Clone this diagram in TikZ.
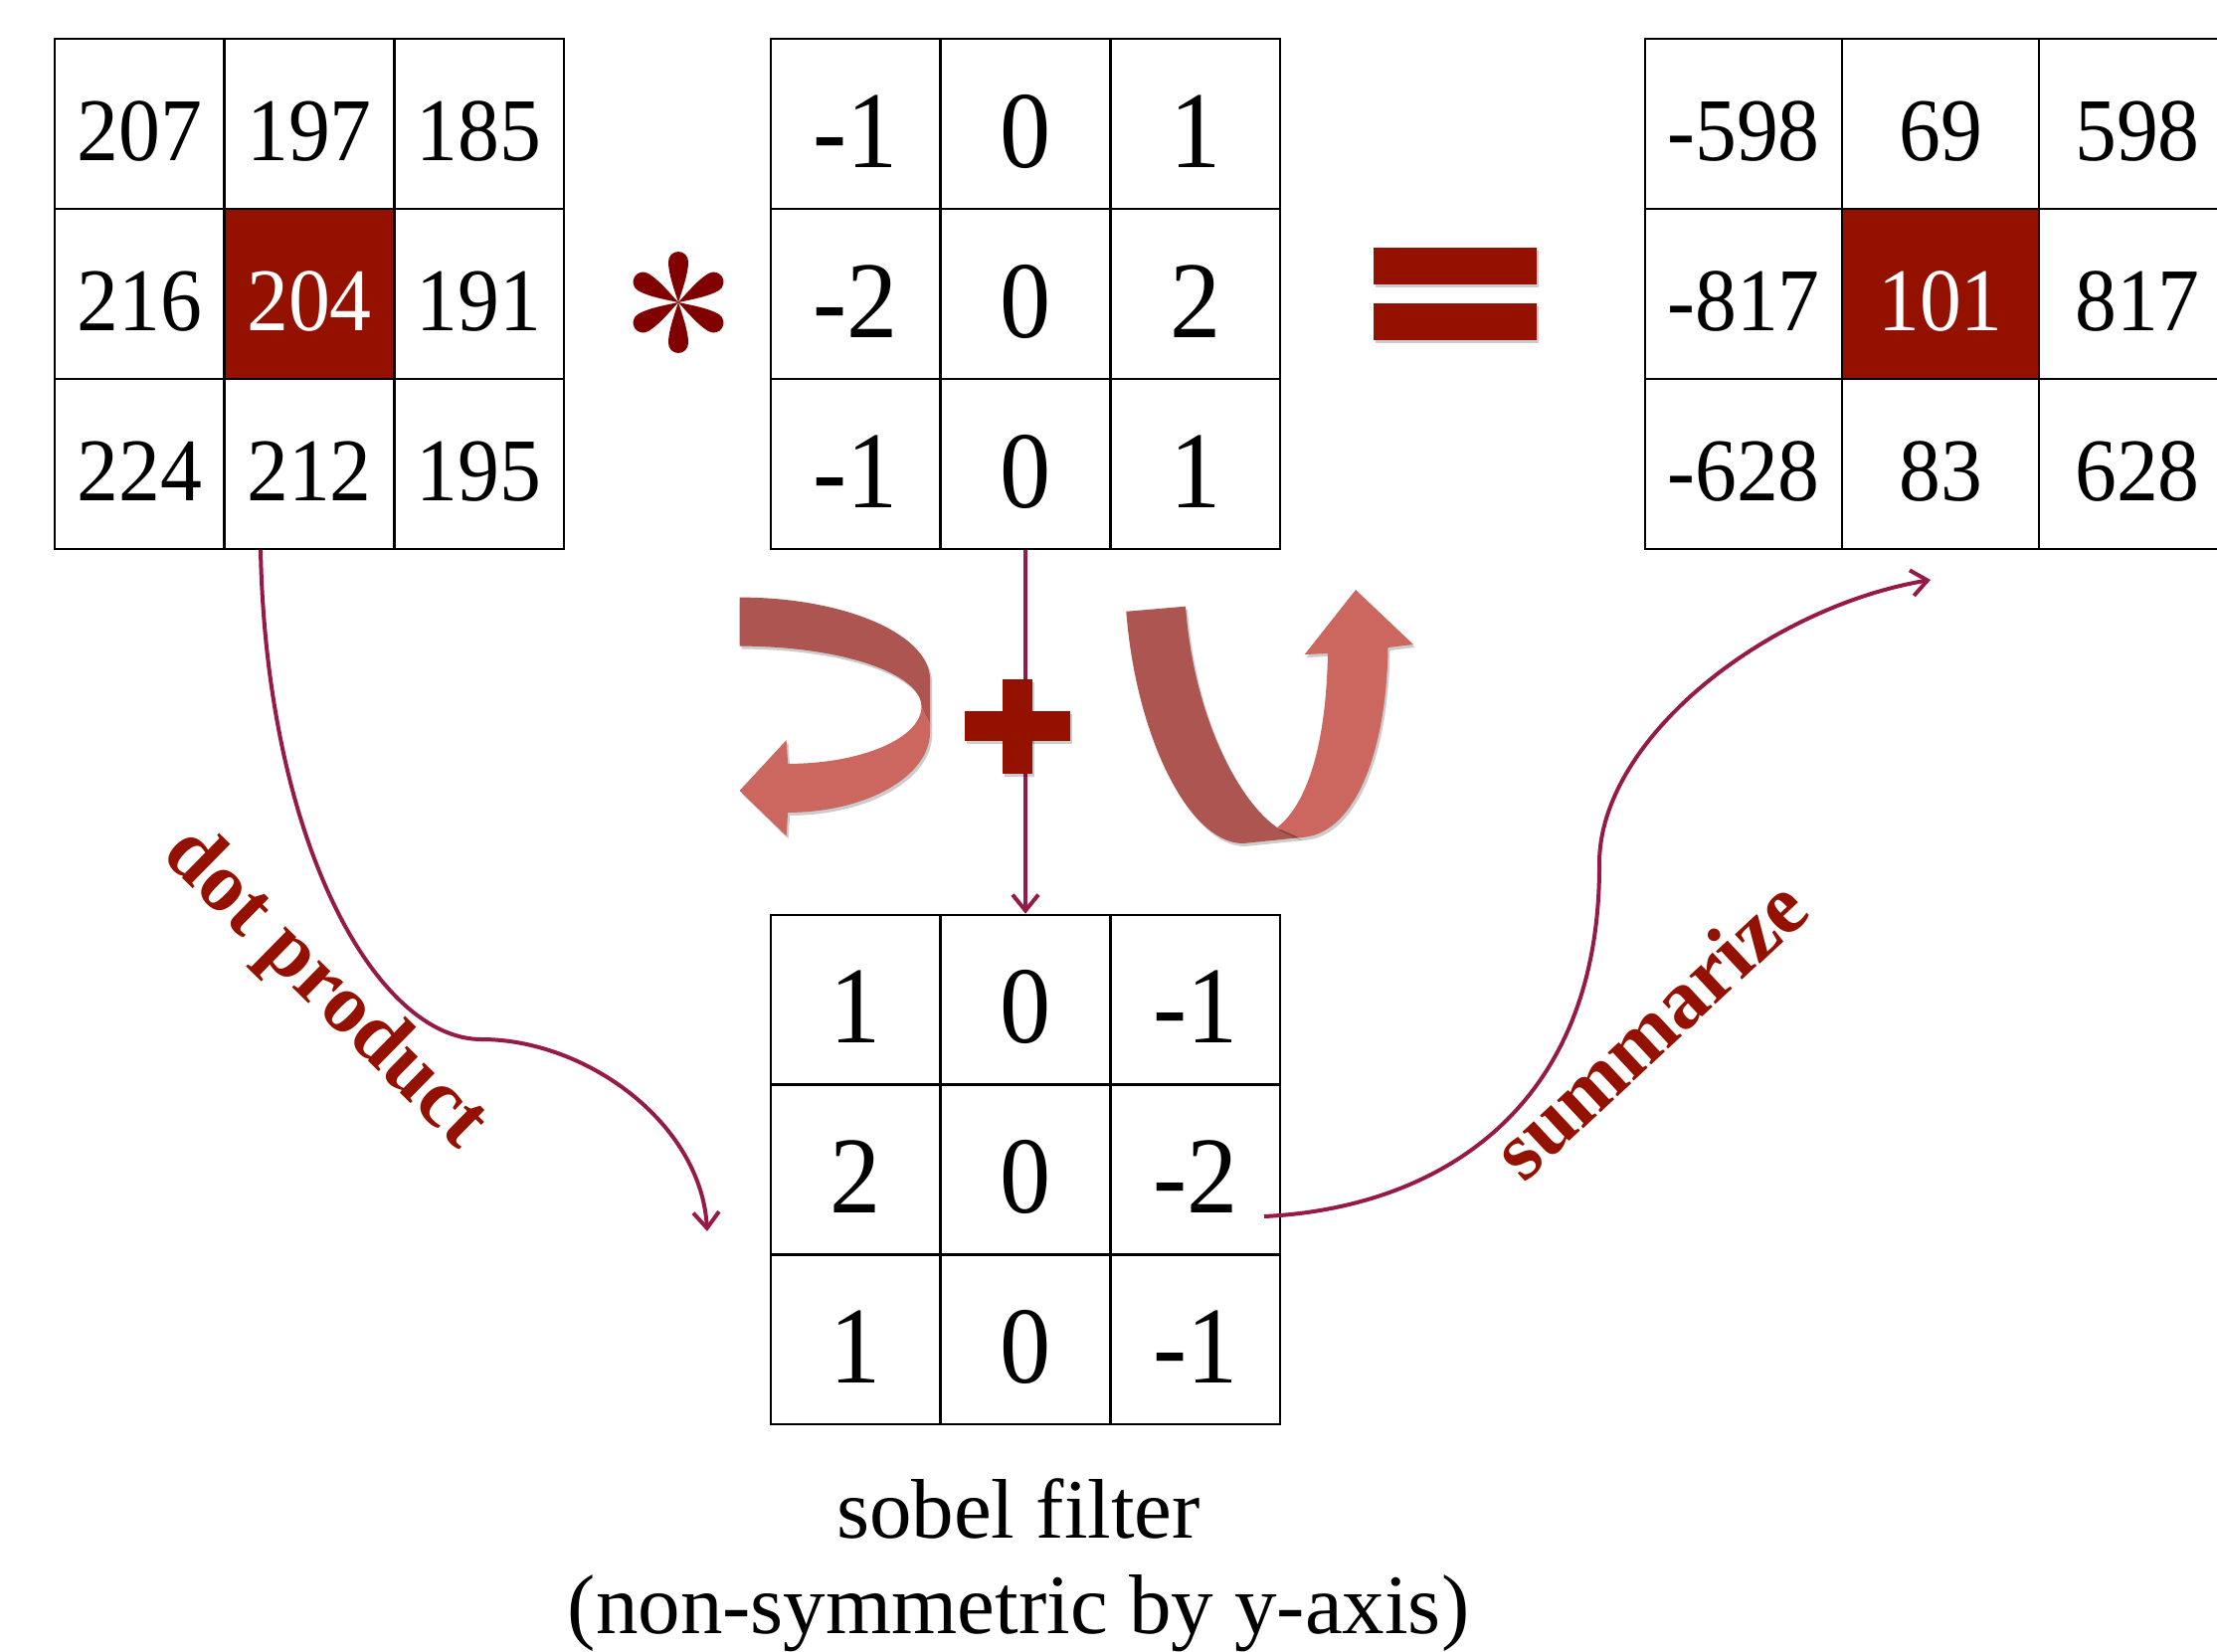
\documentclass[tikz,border=0pt]{standalone}
\usepackage{fontspec}
\setmainfont{Liberation Serif}
\newfontfamily\numfont[FakeStretch=0.93]{Liberation Serif}
\usetikzlibrary{arrows.meta,shadows}
\definecolor{cayenne}{RGB}{148,17,0}
\definecolor{astred}{RGB}{128,0,0}
\definecolor{ribdark}{RGB}{173,85,80}
\definecolor{riblight}{RGB}{204,103,96}
\definecolor{conn}{RGB}{150,26,72}
\begin{document}
\begin{tikzpicture}[x=1pt,y=-1pt,
  cellbase/.style={draw=black, line width=2.5pt, inner sep=0pt, text depth=0pt},
  cellS/.style={cellbase, minimum width=170.67pt, minimum height=171pt,
    font=\numfont\fontsize{90}{90}\selectfont, text height=74pt},
  cellM/.style={cellbase, minimum width=170.67pt, minimum height=171pt,
    font=\numfont\fontsize{110}{110}\selectfont, text height=87pt},
  cellW/.style={cellbase, minimum width=198pt, minimum height=171pt,
    font=\numfont\fontsize{90}{90}\selectfont, text height=74pt},
  cellL/.style={cellbase, minimum width=170.67pt, minimum height=170.67pt,
    font=\numfont\fontsize{110}{110}\selectfont, text height=87pt},
  hl/.style={fill=cayenne, text=white},
  connline/.style={draw=conn, line width=4pt},
  conntip/.style={-{Straight Barb[length=16pt,width=26pt]}},
  lbl/.style={text=cayenne, font=\fontsize{84}{84}\selectfont\bfseries, inner sep=0pt},
  caption/.style={font=\fontsize{85}{100}\selectfont, inner sep=0pt, anchor=base},
  shd/.style={drop shadow={shadow xshift=2pt, shadow yshift=-3pt, opacity=0.2, fill=black}}
]
\useasboundingbox (0,0) rectangle (2229,1660);

% left image patch
\node[cellS] (L11) at (140.3,124.5) {207};
\node[cellS] (L12) at (311,124.5) {197};
\node[cellS] (L13) at (481.7,124.5) {185};
\node[cellS] (L21) at (140.3,295.5) {216};
\node[cellS,hl] (L22) at (311,295.5) {204};
\node[cellS] (L23) at (481.7,295.5) {191};
\node[cellS] (L31) at (140.3,466.5) {224};
\node[cellS] (L32) at (311,466.5) {212};
\node[cellS] (L33) at (481.7,466.5) {195};

% top filter
\node[cellM] (M11) at (860.3,124.5) {-1};
\node[cellM] (M12) at (1031,124.5) {0};
\node[cellM] (M13) at (1201.7,124.5) {1};
\node[cellM] (M21) at (860.3,295.5) {-2};
\node[cellM] (M22) at (1031,295.5) {0};
\node[cellM] (M23) at (1201.7,295.5) {2};
\node[cellM] (M31) at (860.3,466.5) {-1};
\node[cellM] (M32) at (1031,466.5) {0};
\node[cellM] (M33) at (1201.7,466.5) {1};

% result
\node[cellW] (R11) at (1753,124.5) {-598};
\node[cellW] (R12) at (1951,124.5) {69};
\node[cellW] (R13) at (2149,124.5) {598};
\node[cellW] (R21) at (1753,295.5) {-817};
\node[cellW,hl] (R22) at (1951,295.5) {101};
\node[cellW] (R23) at (2149,295.5) {817};
\node[cellW] (R31) at (1753,466.5) {-628};
\node[cellW] (R32) at (1951,466.5) {83};
\node[cellW] (R33) at (2149,466.5) {628};

% bottom flipped filter
\node[cellL] (B11) at (860.3,1005.3) {1};
\node[cellL] (B12) at (1031,1005.3) {0};
\node[cellL] (B13) at (1201.7,1005.3) {-1};
\node[cellL] (B21) at (860.3,1176) {2};
\node[cellL] (B22) at (1031,1176) {0};
\node[cellL] (B23) at (1201.7,1176) {-2};
\node[cellL] (B31) at (860.3,1346.7) {1};
\node[cellL] (B32) at (1031,1346.7) {0};
\node[cellL] (B33) at (1201.7,1346.7) {-1};

\node[caption] (cap1) at (1024,1546) {sobel filter};
\node[caption] (cap2) at (1024,1642) {(non-symmetric by y-axis)};

% asterisk
\begin{scope}[shift={(682,304)}, x=1pt, y=1pt]
  \foreach \a in {0,60,120,180,240,300}{
    \fill[astred, rotate=\a] (0,0) .. controls (-4.5,14) and (-10,29) .. (-10,41)
      arc[start angle=180, end angle=0, radius=10]
      .. controls (10,29) and (4.5,14) .. (0,0) -- cycle;
  }
\end{scope}

% equals sign
\fill[cayenne, shd] (1381,249) rectangle (1545,286);
\fill[cayenne, shd] (1381,305) rectangle (1545,342);

% vertical connector and plus
\draw[connline, conntip] (M32.south) -- (B12.north);
\fill[cayenne, shd] (970,715) rectangle (1076,745);
\fill[cayenne, shd] (1008,683) rectangle (1038,778);
\fill[cayenne] (970,715) rectangle (1076,745);

% left ribbon (horizontal flip)
\fill[ribdark, shd] (743.6,600.6) .. controls (849.3,600.6) and (935.1,637.7) .. (935.1,683.4)
  -- (935.1,727.3) -- (926.4,710.4) .. controls (926.4,676.8) and (844.5,649.6) .. (743.6,649.6) -- cycle;
\fill[riblight, shd] (926.4,710.4) -- (935.1,727.3) -- (935.1,735.8)
  .. controls (935.1,780.5) and (871,816.9) .. (792.1,816.9)
  -- (790.6,840.5) -- (743.6,794.9) -- (790.6,744.2) -- (792.1,767.9)
  .. controls (866.2,767.9) and (926.4,742.1) .. (926.4,710.4) -- cycle;

% right ribbon (vertical flip)
\fill[ribdark, shd] (1132.3,614.8) -- (1192,609.7) .. controls (1200,720) and (1245,805) .. (1284,832)
  -- (1308,842) -- (1250,848) .. controls (1195,848) and (1142,740) .. (1132.3,614.8) -- cycle;
\fill[riblight, shd] (1284,832) .. controls (1310,812) and (1333,760) .. (1335,657)
  -- (1311.7,658) -- (1363,593) -- (1421,648) -- (1395.5,651)
  .. controls (1394,760) and (1360,842) .. (1306,842) -- cycle;

% dot product connector
\coordinate (dpstart) at (262,553);
\coordinate (dpmid) at (484,1045);
\coordinate (dpend) at (711,1238);
\draw[connline, conntip] (dpstart) .. controls (268,850) and (380,1045) .. (dpmid)
  .. controls (590,1045) and (705,1130) .. (dpend);
\node[lbl, rotate=-44.5] (dp) at (325.5,995) {dot product};

% summarize connector
\coordinate (smstart) at (1271,1223);
\coordinate (smmid) at (1608,866);
\coordinate (smend) at (1941,583);
\draw[connline, conntip] (smstart) .. controls (1440,1215) and (1610,1120) .. (smmid)
  .. controls (1610,740) and (1780,610) .. (smend);
\node[lbl, rotate=43] (sm) at (1658,1034) {summarize};
\end{tikzpicture}
\end{document}
